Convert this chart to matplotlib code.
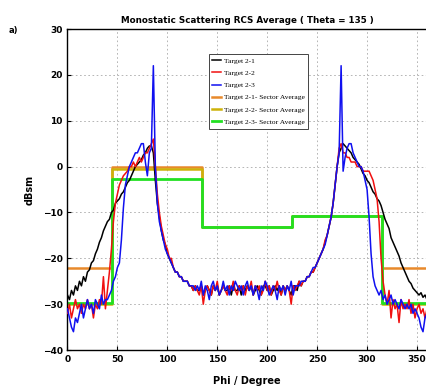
import numpy as np
import matplotlib.pyplot as plt

# Monostatic RCS vs phi, theta = 135 deg, sampled every 2 deg
phi = np.arange(0, 361, 2)

target_21 = [
    -28, -29, -27, -28, -26, -27, -25, -26, -24, -25,        # 0-18
    -23, -22.5, -21, -20.5, -19, -18, -16.5, -15.5, -14, -13,  # 20-38
    -12, -11.5, -10, -9.5, -8, -7.5, -7, -6, -5.5, -4.5,      # 40-58
    -3.5, -3, -2, -1, 0, 0.5, 1, 1.5, 2.5, 3,                 # 60-78
    4, 4.5, 4.5, 3, -3, -8, -11, -14, -16, -17,               # 80-98
    -19, -20, -21, -22, -23, -23, -24, -24, -25, -25,         # 100-118
    -25, -26, -26, -27, -26, -27, -27, -26, -28, -27,         # 120-138
    -26, -27, -28, -26, -27, -26, -28, -27, -26, -27,         # 140-158
    -27, -26, -28, -26, -27, -27, -26, -28, -26, -27,         # 160-178
    -26, -27, -26, -28, -27, -26, -27, -28, -26, -26,         # 180-198
    -27, -26, -28, -27, -26, -27, -26, -28, -26, -27,         # 200-218
    -26, -27, -28, -26, -26, -27, -25, -26, -25, -25,         # 220-238
    -24, -24, -23, -23, -22, -21, -20, -19, -18, -16.5,       # 240-258
    -15, -13, -11, -8, -4, 0, 3, 4, 5, 4.5,                   # 260-278
    4, 3.5, 3, 2, 1.5, 1, 0.5, -0.5, -1.5, -2,                # 280-298
    -3, -3.5, -4.5, -5.5, -6, -7, -7.5, -8.5, -10, -11.5,     # 300-318
    -12.5, -13.5, -15.5, -16.5, -17.5, -18.5, -19.5, -21, -22, -23,  # 320-338
    -24, -25, -25.5, -26.5, -27, -27.5, -28, -27.5, -28.5, -28,      # 340-358
    -29,                                                      # 360
]

target_22 = [
    -32, -30, -33, -31, -29, -31, -30, -32, -30, -31,         # 0-18
    -29, -31, -30, -33, -30, -31, -29, -30, -24, -31,         # 20-38
    -27, -23, -18, -12, -8, -6, -4, -3, -2, -1.5,             # 40-58
    -1, 0, 0, 1, 0, 1, 2, 1, 2, 3,                            # 60-78
    3, 4, 5, 6, 0, -6, -10, -13, -15, -17,                    # 80-98
    -18, -20, -20, -22, -23, -23, -24, -24, -25, -25,         # 100-118
    -25, -26, -26, -27, -26, -27, -28, -26, -30, -27,         # 120-138
    -26, -27, -28, -26, -27, -25, -28, -27, -26, -27,         # 140-158
    -28, -26, -27, -25, -27, -28, -26, -27, -26, -28,         # 160-178
    -26, -27, -25, -28, -26, -27, -26, -28, -27, -25,         # 180-198
    -27, -26, -28, -26, -27, -25, -27, -28, -26, -27,         # 200-218
    -26, -27, -30, -26, -27, -26, -25, -26, -25, -25,         # 220-238
    -24, -24, -23, -23, -22, -21, -20, -19, -18, -16,         # 240-258
    -15, -13, -11, -8, -4, 0, 4, 5, 3, 3,                     # 260-278
    2, 2, 1, 1, 1, 0, 0, 0, -1, -1,                           # 280-298
    -1, -1, -2, -3, -5, -7, -12, -20, -25, -28,               # 300-318
    -30, -27, -33, -29, -31, -30, -34, -29, -31, -30,         # 320-338
    -31, -29, -32, -30, -33, -31, -30, -32, -31, -33,         # 340-358
    -31,                                                      # 360
]

target_23 = [
    -31, -33, -35, -36, -33, -34, -32, -30, -33, -31,         # 0-18
    -29, -31, -30, -32, -29, -30, -31, -28, -30, -29,         # 20-38
    -29, -28, -27, -25, -24, -22, -21, -16, -9, -4,           # 40-58
    -2, 0, 1, 2, 3, 3, 4, 5, 5, 1,                            # 60-78
    -2, 3, 4, 22, 0, -8, -12, -14, -16, -18,                  # 80-98
    -19, -20, -21, -22, -23, -23, -24, -24, -25, -25,         # 100-118
    -25, -26, -26, -26, -27, -26, -27, -25, -28, -26,         # 120-138
    -27, -29, -26, -25, -27, -26, -28, -27, -25, -27,         # 140-158
    -26, -28, -26, -27, -25, -26, -27, -26, -28, -26,         # 160-178
    -25, -27, -26, -28, -26, -27, -29, -26, -27, -25,         # 180-198
    -26, -28, -27, -26, -27, -29, -26, -27, -26, -28,         # 200-218
    -26, -27, -25, -28, -26, -26, -26, -25, -25, -25,         # 220-238
    -24, -24, -23, -22, -22, -21, -20, -19, -18, -17,         # 240-258
    -15, -13, -11, -8, -4, 0, 3, 22, -1, 2,                   # 260-278
    4, 5, 5, 3, 2, 1, 0, 0, -1, -3,                           # 280-298
    -5, -11, -19, -24, -26, -27, -28, -27, -29, -28,          # 300-318
    -30, -29, -28, -30, -29, -30, -31, -29, -30, -31,         # 320-338
    -30, -31, -30, -32, -31, -32, -33, -35, -36, -33,         # 340-358
    -32,                                                      # 360
]

# sector averages (steps at 45 / 135 / 225 / 315 deg)
sector_edges = [0, 45, 135, 225, 315, 360]
avg_21 = [-22, 0, -13.2, -10.8, -22]
avg_22 = [-30, -0.6, -13.1, -10.7, -30]
avg_23 = [-29.8, -2.8, -13.2, -10.8, -29.8]

fig = plt.figure(figsize=(4.27, 3.92), dpi=100)
ax = fig.add_axes([0.158, 0.107, 0.842, 0.819])

ax.step(sector_edges, avg_21 + [avg_21[-1]], where='post', color='#E8892B', lw=1.8,
        label='Target 2-1- Sector Average', zorder=2)
ax.step(sector_edges, avg_22 + [avg_22[-1]], where='post', color='#CDB20A', lw=1.8,
        label='Target 2-2- Sector Average', zorder=2)
ax.step(sector_edges, avg_23 + [avg_23[-1]], where='post', color='#22E022', lw=2.0,
        label='Target 2-3- Sector Average', zorder=2.5)

ax.plot(phi, target_21, color='black', lw=1.1, label='Target 2-1', zorder=3)
ax.plot(phi, target_22, color='#F01010', lw=1.1, label='Target 2-2', zorder=3.1)
ax.plot(phi, target_23, color='#1010F0', lw=1.1, label='Target 2-3', zorder=3.2)

ax.set_xlim(0, 360)
ax.set_ylim(-40, 30)
ax.set_xticks(np.arange(0, 351, 50))
ax.set_yticks(np.arange(-40, 31, 10))
ax.grid(True, linestyle=(0, (2, 3)), color='#aaaaaa', lw=0.6)
ax.tick_params(direction='in', labelsize=6.5, length=3, width=0.8)
for lab in ax.get_xticklabels() + ax.get_yticklabels():
    lab.set_fontweight('bold')
for sp in ax.spines.values():
    sp.set_linewidth(1.0)

ax.set_title('Monostatic Scattering RCS Average ( Theta = 135 )', fontsize=6.3,
             fontweight='bold', pad=4)
ax.set_xlabel('Phi / Degree', fontsize=7, fontweight='bold', labelpad=9)
ax.set_ylabel('dBsm', fontsize=7, fontweight='bold', labelpad=6)
fig.text(0.02, 0.915, 'a)', fontsize=6, fontweight='bold')

h, l = ax.get_legend_handles_labels()
order = [3, 4, 5, 0, 1, 2]
leg = ax.legend([h[i] for i in order], [l[i] for i in order], loc='upper left',
                bbox_to_anchor=(0.382, 0.935), handlelength=1.2,
                handletextpad=0.3, labelspacing=0.8, borderpad=0.5,
                fancybox=False, framealpha=1, edgecolor='#444444',
                prop={'family': 'Liberation Serif', 'size': 5.4})
leg.get_frame().set_linewidth(0.7)

fig.savefig('out.png', dpi=100)
